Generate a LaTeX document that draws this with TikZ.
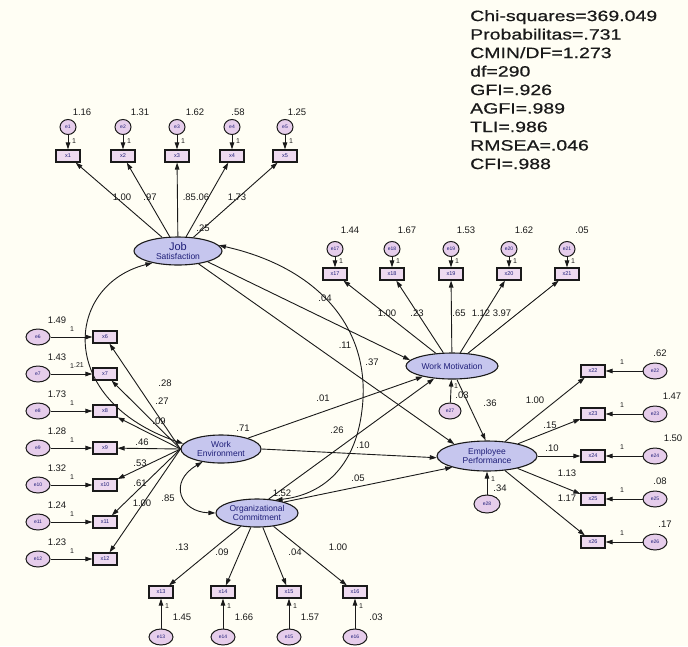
\documentclass[tikz,border=0pt]{standalone}
\usepackage{fontspec}
\setmainfont{Liberation Sans}
\newfontfamily\statfont[FakeStretch=1.3,FakeBold=0.6]{Liberation Sans}
\usetikzlibrary{arrows.meta,shapes.geometric}
\definecolor{bg}{HTML}{FFFEF4}
\definecolor{latfill}{HTML}{C6C6EE}
\definecolor{boxfill}{HTML}{EEDAF0}
\definecolor{errfill}{HTML}{E6CDEB}
\definecolor{navy}{HTML}{1E1E78}
\definecolor{ink}{HTML}{1A1A1A}
\begin{document}
\begin{tikzpicture}[x=1pt,y=-1pt,
 lat/.style={ellipse,draw=ink,line width=1.1pt,fill=latfill,inner sep=0pt,align=center,text=navy,font=\fontsize{8.5}{9}\selectfont},
 obs/.style={rectangle,draw=ink,line width=1.2pt,fill=boxfill,minimum width=24,minimum height=12,inner sep=0pt,text=navy,font=\fontsize{5.5}{6}\selectfont},
 err/.style={ellipse,draw=ink,line width=1pt,fill=errfill,minimum width=16,minimum height=15,inner sep=0pt,text=navy,font=\fontsize{5}{5}\selectfont},
 errb/.style={err,minimum width=24,minimum height=16},
 lb/.style={inner sep=0pt,font=\fontsize{9.5}{9.5}\selectfont,text=ink},
 one/.style={inner sep=0pt,font=\fontsize{7}{7}\selectfont,text=ink},
 pth/.style={draw=ink,line width=0.9pt,-{Triangle[length=7pt,width=4.5pt]}},
 cov/.style={draw=ink,line width=0.9pt,{Triangle[length=7pt,width=4.5pt]}-{Triangle[length=7pt,width=4.5pt]}},
]
\fill[bg] (0,0) rectangle (688,646);
\useasboundingbox (0,0) rectangle (688,646);

% fit statistics
\node[anchor=north west,inner sep=0pt,align=left,text=ink,font=\statfont\fontsize{15}{18.5}\selectfont] (stats) at (470,10)
 {Chi-squares=369.049\\Probabilitas=.731\\CMIN/DF=1.273\\df=290\\GFI=.926\\AGFI=.989\\TLI=.986\\RMSEA=.046\\CFI=.988};

% latent variables
\node[lat,minimum width=88,minimum height=28] (JS) at (178,251) {{\fontsize{11}{11}\selectfont Job}\\Satisfaction};
\node[lat,minimum width=92,minimum height=26] (WM) at (452,366) {Work Motivation};
\node[lat,minimum width=100,minimum height=30] (EP) at (487,456) {Employee\\Performance};
\node[lat,minimum width=80,minimum height=28] (WE) at (221,449) {Work\\Environment};
\node[lat,minimum width=82,minimum height=28] (OC) at (257,513) {Organizational\\Commitment};

% Job Satisfaction indicators
\foreach \i/\x/\v/\vx in {1/68/1.16/82,2/123/1.31/140,3/177/1.62/195,4/232/.58/238,5/285/1.25/297}{
 \node[obs] (x\i) at (\x,156) {x\i};
 \node[err] (e\i) at (\x,127) {e\i};
 \node[lb] (v\i) at (\vx,112) {\v};
 \node[one] (o\i) at (\x+6,141) {1};
 \draw[pth] (e\i) -- (x\i);
 \draw[pth] (JS) -- (x\i);
}
\node[lb] (l1) at (122,197) {1.00};
\node[lb] (l2) at (150,197) {.97};
\node[lb] (l3) at (196,197) {.85.06};
\node[lb] (l5) at (237,197) {1.73};
\node[lb] (vJS) at (203,228) {.25};

% Work Motivation indicators
\foreach \i/\x/\v in {17/335/1.44,18/392/1.67,19/451/1.53,20/509/1.62,21/567/.05}{
 \node[obs] (x\i) at (\x,274) {x\i};
 \node[err] (e\i) at (\x,249) {e\i};
 \node[lb] (v\i) at (\x+15,230) {\v};
 \node[one] (o\i) at (\x+6,261) {1};
 \draw[pth] (e\i) -- (x\i);
 \draw[pth] (WM) -- (x\i);
}
\node[lb] (l17) at (387,313) {1.00};
\node[lb] (l18) at (417,313) {.23};
\node[lb] (l19) at (459,313) {.65};
\node[lb] (l20) at (481,313) {1.12};
\node[lb] (l21) at (502,313) {3.97};

% Work Environment indicators
\foreach \i/\y/\v in {6/337/1.49,7/374/1.43,8/411/1.73,9/448/1.28,10/485/1.32,11/522/1.24,12/559/1.23}{
 \node[obs] (x\i) at (105,\y) {x\i};
 \node[errb] (e\i) at (38,\y) {e\i};
 \node[lb] (v\i) at (57,\y-17) {\v};
 \node[one] (o\i) at (72,\y-8) {1};
 \draw[pth] (e\i) -- (x\i);
 \draw[pth] (WE.west) -- (x\i);
}
\node[one] (o7b) at (79,365) {.21};
\node[lb] (l6) at (165,383) {.28};
\node[lb] (l7) at (162,401) {.27};
\node[lb] (l8) at (159,421) {.09};
\node[lb] (l9) at (142,442) {.46};
\node[lb] (l10) at (140,463) {.53};
\node[lb] (l11) at (140,483) {.61};
\node[lb] (l12) at (142,503) {1.00};
\node[lb] (l12b) at (168,498) {.85};
\node[lb] (vWE) at (243,428) {.71};

% Organizational Commitment indicators
\foreach \i/\x/\v in {13/161/1.45,14/223/1.66,15/289/1.57,16/355/.03}{
 \node[obs] (x\i) at (\x,592) {x\i};
 \node[errb] (e\i) at (\x,637) {e\i};
 \node[lb] (v\i) at (\x+21,617) {\v};
 \node[one] (o\i) at (\x+6,606) {1};
 \draw[pth] (e\i) -- (x\i);
 \draw[pth] (OC) -- (x\i);
}
\node[lb] (l13) at (182,547) {.13};
\node[lb] (l14) at (222,552) {.09};
\node[lb] (l15) at (295,552) {.04};
\node[lb] (l16) at (338,547) {1.00};
\node[lb] (vOC) at (282,493) {1.52};

% Employee Performance indicators
\foreach \i/\y/\v/\vx in {22/371/.62/660,23/414/1.47/672,24/456/1.50/673,25/499/.08/660,26/542/.17/665}{
 \node[obs] (x\i) at (593,\y) {x\i};
 \node[errb] (e\i) at (655,\y) {e\i};
 \node[lb] (v\i) at (\vx,\y-18) {\v};
 \node[one] (o\i) at (622,\y-9) {1};
 \draw[pth] (e\i) -- (x\i);
 \draw[pth] (EP) -- (x\i);
}
\node[lb] (l22) at (535,400) {1.00};
\node[lb] (l23) at (550,425) {.15};
\node[lb] (l24) at (552,448) {.10};
\node[lb] (l25) at (567,473) {1.13};
\node[lb] (l26) at (567,498) {1.17};

% disturbances
\node[err,minimum width=22,minimum height=16] (e27) at (450,411) {e27};
\node[errb,minimum width=26,minimum height=18] (e28) at (487,504) {e28};
\draw[pth] (e27) -- (WM);
\draw[pth] (e28) -- (EP);
\node[one] (o27) at (456,386) {1};
\node[one] (o28) at (493,479) {1};
\node[lb] (vWM) at (462,395) {.03};
\node[lb] (vEP) at (500,488) {.34};

% structural paths
\draw[pth] (JS.340) -- (WM.172);
\draw[pth] (JS.328) -- (EP.160);
\draw[pth] (WE.22) -- (WM.200);
\draw[pth] (WE.east) -- (EP.182);
\draw[pth] (OC.50) -- (WM.215);
\draw[pth] (OC.22) -- (EP.198);
\draw[pth] (WM.290) -- (EP.95);
\node[lb] (p1) at (325,298) {.04};
\node[lb] (p2) at (345,345) {.11};
\node[lb] (p3) at (372,362) {.37};
\node[lb] (p4) at (323,398) {.01};
\node[lb] (p5) at (337,430) {.26};
\node[lb] (p6) at (363,445) {.10};
\node[lb] (p7) at (358,478) {.05};
\node[lb] (p8) at (490,403) {.36};

% covariances
\draw[cov] (JS.8) .. controls (320,268) and (372,330) .. (362,410) .. controls (355,470) and (320,495) .. (OC.35);
\draw[cov] (JS.205) .. controls (65,285) and (55,400) .. (WE.172);
\draw[cov] (WE.215) .. controls (168,482) and (180,512) .. (OC.west);
\end{tikzpicture}
\end{document}
